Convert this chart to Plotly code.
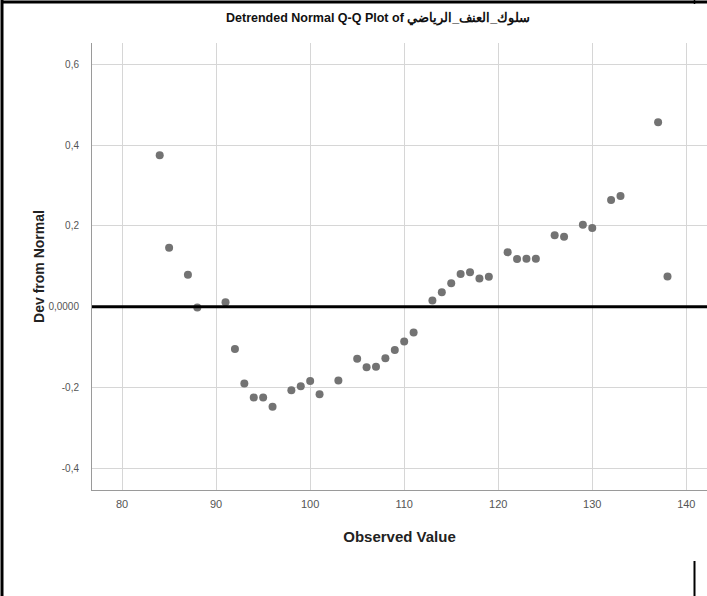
import plotly.graph_objects as go

# Observed values and their deviation from the normal expectation
observed = [84, 85, 87, 88, 91, 92, 93, 94, 95, 96, 98, 99, 100, 101, 103,
            105, 106, 107, 108, 109, 110, 111, 113, 114, 115, 116, 117, 118,
            119, 121, 122, 123, 124, 126, 127, 129, 130, 132, 133, 137, 138]
deviation = [0.375, 0.146, 0.079, -0.002, 0.011, -0.105, -0.190, -0.225,
             -0.225, -0.248, -0.207, -0.197, -0.184, -0.217, -0.183, -0.129,
             -0.150, -0.149, -0.128, -0.107, -0.086, -0.064, 0.015, 0.036,
             0.058, 0.081, 0.085, 0.070, 0.074, 0.135, 0.118, 0.119, 0.119,
             0.177, 0.173, 0.203, 0.195, 0.264, 0.274, 0.457, 0.075]

x_ticks = [80, 90, 100, 110, 120, 130, 140]
y_ticks = [-0.4, -0.2, 0.0, 0.2, 0.4, 0.6]
y_tick_text = ["-0,4", "-0,2", "0,0000", "0,2", "0,4", "0,6"]

title_text = "Detrended Normal Q-Q Plot of سلوك_العنف_الرياضي"
narrow = "Liberation Sans Narrow, Arial Narrow, Liberation Sans, Arial, sans-serif"

fig = go.Figure()
fig.add_trace(go.Scatter(
    x=observed, y=deviation, mode="markers",
    marker=dict(color="#737373", size=8, line=dict(width=0)),
    showlegend=False, hoverinfo="x+y",
))

W, H = 707, 596
L, R, T, B = 92, 0, 43, 106
pw, ph = W - L - R, H - T - B

def px_x(p):
    return (p - L) / pw

def px_y(p):
    return (H - B - p) / ph

fig.update_layout(
    width=W, height=H,
    margin=dict(l=L, r=R, t=T, b=B, pad=0),
    paper_bgcolor="white", plot_bgcolor="white",
    font=dict(family=narrow, color="#333333"),
    xaxis=dict(
        range=[76.8, 142.2], tickvals=x_ticks, ticktext=[str(v) for v in x_ticks],
        showgrid=True, gridcolor="#d6d6d6", gridwidth=1,
        zeroline=False, showline=True, linecolor="#9a9a9a", linewidth=1,
        ticks="", ticklabelstandoff=4, tickfont=dict(size=11, color="#555555", family=narrow),
        title=dict(text="<b>Observed Value</b>", font=dict(size=15, color="#222222", family=narrow),
                   standoff=22),
    ),
    yaxis=dict(
        range=[-0.454, 0.653], tickvals=y_ticks, ticktext=y_tick_text,
        showgrid=True, gridcolor="#d6d6d6", gridwidth=1,
        zeroline=False, showline=True, linecolor="#9a9a9a", linewidth=1,
        ticks="", ticklabelstandoff=10, tickfont=dict(size=10, color="#555555", family=narrow),
        title=dict(text="<b>Dev from Normal</b>", font=dict(size=14, color="#222222", family=narrow),
                   standoff=0),
    ),
    annotations=[dict(
        text="<b>" + title_text + "</b>", xref="paper", yref="paper",
        x=px_x(378), y=px_y(18), xanchor="center", yanchor="middle",
        showarrow=False, font=dict(size=12.5, color="#111111", family=narrow),
    )],
    shapes=[
        # reference line at zero deviation
        dict(type="line", xref="paper", yref="y", x0=0, x1=1, y0=0, y1=0,
             line=dict(color="black", width=3), layer="above"),
        # outer frame pieces
        dict(type="line", xref="paper", yref="paper", x0=px_x(1.5), x1=px_x(707),
             y0=px_y(2), y1=px_y(2), line=dict(color="black", width=3)),
        dict(type="line", xref="paper", yref="paper", x0=px_x(2), x1=px_x(2),
             y0=px_y(0), y1=px_y(596), line=dict(color="black", width=3)),
        dict(type="line", xref="paper", yref="paper", x0=px_x(694.5), x1=px_x(694.5),
             y0=px_y(561), y1=px_y(596), line=dict(color="black", width=2)),
        dict(type="line", xref="paper", yref="paper", x0=px_x(694.5), x1=px_x(694.5),
             y0=px_y(0), y1=px_y(4), line=dict(color="black", width=1.5)),
    ],
)

fig.write_html("out.html")
